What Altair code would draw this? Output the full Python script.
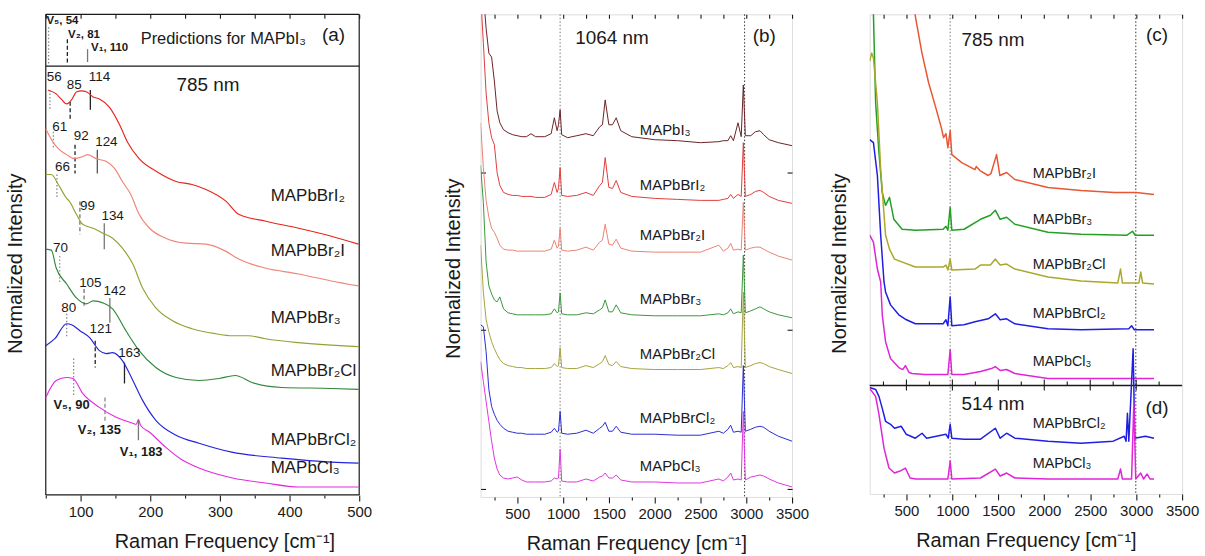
import altair as alt
import pandas as pd

FONT = "Liberation Sans"
INK = "#1a1a1a"
XTITLE = "Raman Frequency [cm⁻¹]"
YTITLE = "Normalized Intensity"

# ======================= Panel (a): 785 nm, low frequency =======================
a_names = ["MAPbBrI₂", "MAPbBr₂I", "MAPbBr₃", "MAPbBr₂Cl", "MAPbBrCl₂", "MAPbCl₃"]
a_colors = ["#e8231c", "#ef8578", "#97a034", "#33873a", "#2323dc", "#e22be0"]

a_brI2_f = [53, 65, 72, 80, 87, 94, 101, 109, 118, 127, 141, 156, 167, 184, 209, 237, 260, 280, 309, 327, 366, 413, 460, 499]
a_brI2_i = [407, 403, 398, 393, 397, 405, 406, 405, 400, 398, 390, 372, 355, 338, 325, 315, 312, 307, 295, 282, 275, 268, 260, 252]
a_br2I_f = [50, 60, 68, 80, 91, 103, 110, 122, 137, 149, 160, 172, 184, 199, 222, 251, 280, 308, 327, 365, 413, 460, 499]
a_br2I_i = [368, 355, 348, 342, 338, 340, 342, 338, 335, 328, 315, 302, 282, 268, 258, 253, 252, 245, 237, 228, 222, 215, 210]
a_br3_f = [50, 58, 68, 80, 84, 94, 103, 118, 132, 146, 160, 175, 189, 208, 232, 260, 294, 318, 341, 365, 413, 499]
a_br3_i = [322, 322, 312, 298, 295, 282, 272, 268, 263, 258, 248, 232, 208, 188, 175, 167, 162, 160, 160, 157, 153, 149]
a_br2Cl_f = [50, 58, 65, 80, 94, 108, 118, 132, 146, 165, 184, 208, 237, 270, 299, 322, 346, 389, 460, 499]
a_br2Cl_i = [247, 246, 228, 212, 198, 192, 195, 193, 187, 165, 145, 128, 118, 115, 117, 120, 113, 108, 107, 106]
a_brCl2_f = [50, 63, 80, 87, 99, 113, 127, 137, 146, 160, 175, 189, 208, 237, 270, 317, 389, 460, 499]
a_brCl2_i = [150, 157, 172, 171, 165, 158, 145, 142, 143, 135, 115, 95, 75, 60, 52, 43, 37, 33, 32]
a_cl3_f = [50, 65, 80, 89, 103, 127, 151, 175, 180, 183, 186, 199, 222, 246, 270, 318, 365, 413, 499]
a_cl3_i = [98, 115, 118, 117, 102, 88, 78, 72, 71, 76, 70, 63, 48, 35, 27, 17, 12, 8, 8]

# peak markers (frequency, top, bottom, style, colour)
a_mark_f = [56, 85, 114, 61, 92, 124, 66, 99, 134, 70, 105, 142, 80, 121, 163, 90, 135, 183, 54, 81, 110]
a_mark_top = [407, 395, 407, 365, 352, 347, 322, 295, 273, 240, 207, 198, 182, 155, 133, 137, 98, 75, 470, 458, 448]
a_mark_bot = [388, 377, 387, 348, 323, 323, 298, 262, 247, 212, 188, 173, 158, 128, 112, 100, 72, 55, 433, 433, 435]
a_mark_kind = ["dot", "dash", "solid"] * 7
a_mark_col = ["#8a8a8a", "#222222", "#222222", "#8a8a8a", "#222222", "#555555",
              "#8a8a8a", "#777777", "#777777", "#9a9a9a", "#777777", "#777777",
              "#8a8a8a", "#222222", "#222222", "#8a8a8a", "#888888", "#777777",
              "#8a8a8a", "#222222", "#777777"]

a_num_t = ["56", "85", "114", "61", "92", "124", "66", "99", "134", "70", "105", "142", "80", "121", "163"]
a_num_f = [62, 91, 127, 70, 101, 137, 74, 110, 146, 71, 114, 149, 83, 129, 170]
a_num_i = [420, 412, 420, 370, 361, 355, 330, 290, 280, 248, 213, 205, 188, 167, 143]

a_v_t = ["V₅, 90", "V₂, 135", "V₁, 183"]
a_v_f = [87, 127, 187]
a_v_i = [90, 65, 43]

s_v_t = ["V₅, 54", "V₂, 81", "V₁, 110"]
s_v_f = [51, 82, 115]
s_v_i = [476, 462, 449]

a_lab_f = 373
a_lab_i = [300, 245, 178, 125, 55, 27]

a_frame_x = [50, 500, 50, 50, 50]
a_frame_x2 = [50, 500, 500, 500, 500]
a_frame_y = [0, 0, 0, 483, 431]
a_frame_y2 = [483, 483, 0, 483, 431]

# ======================= Panel (b): 1064 nm =======================
b_names = ["MAPbI₃", "MAPbBrI₂", "MAPbBr₂I", "MAPbBr₃", "MAPbBr₂Cl", "MAPbBrCl₂", "MAPbCl₃"]
b_colors = ["#6b2226", "#e23b3b", "#ea8373", "#3a963a", "#a5a33d", "#2b2bd3", "#e034e0"]
b_grid = [100, 130, 160, 190, 220, 250, 280, 310, 350, 400, 450, 500, 550, 600, 650, 700, 800, 870, 905, 935,
          950, 968, 985, 1050, 1150, 1250, 1330, 1400, 1430, 1460, 1500, 1540, 1580, 1630, 1750, 2000, 2250, 2500,
          2700, 2750, 2800, 2830, 2860, 2910, 2945, 2968, 2990, 3050, 3100, 3150, 3190, 3250, 3350, 3500]
b_I3 = [536, 506, 471, 446, 442, 418, 388, 376, 369, 366, 364, 363, 362, 362, 365, 362, 362, 365, 381, 368,
        374, 389, 364, 361, 363, 365, 363, 372, 374, 399, 374, 374, 381, 368, 362, 359, 358, 356, 357, 358,
        358, 363, 358, 376, 362, 414, 363, 363, 367, 368, 364, 359, 356, 353]
b_BrI2 = [506, 456, 406, 376, 361, 354, 326, 313, 306, 304, 303, 303, 302, 302, 302, 301, 301, 304, 316, 306,
          310, 331, 303, 302, 303, 306, 303, 313, 316, 341, 311, 310, 318, 306, 302, 300, 299, 298, 298, 299,
          300, 304, 300, 304, 302, 356, 302, 304, 307, 308, 306, 302, 298, 295]
b_Br2I = [376, 331, 298, 281, 270, 266, 260, 253, 249, 248, 248, 247, 247, 247, 247, 247, 247, 249, 258, 250,
          252, 270, 248, 247, 248, 251, 248, 256, 258, 274, 254, 253, 259, 250, 247, 246, 246, 246, 253, 247,
          250, 255, 248, 249, 248, 296, 248, 250, 251, 251, 249, 246, 242, 238]
b_Br3 = [333, 296, 236, 212, 204, 198, 196, 201, 189, 185, 184, 183, 183, 183, 183, 183, 183, 184, 189, 185,
         186, 205, 184, 183, 183, 185, 184, 188, 190, 198, 186, 186, 193, 185, 183, 182, 182, 182, 184, 183,
         185, 189, 184, 186, 185, 243, 185, 187, 189, 191, 189, 186, 183, 180]
b_Br2Cl = [253, 206, 178, 166, 156, 149, 143, 138, 134, 132, 131, 130, 130, 129, 129, 129, 129, 130, 134, 131,
           132, 150, 130, 129, 129, 132, 130, 134, 136, 142, 133, 132, 136, 131, 129, 128, 128, 128, 130, 129,
           132, 135, 130, 131, 130, 206, 130, 132, 134, 135, 134, 131, 128, 124]
b_BrCl2 = [173, 171, 146, 108, 91, 83, 77, 73, 69, 66, 65, 64, 64, 63, 63, 63, 63, 65, 69, 65,
           66, 86, 64, 63, 64, 67, 64, 69, 71, 75, 66, 66, 71, 65, 63, 63, 62, 62, 66, 64,
           68, 72, 65, 66, 65, 132, 66, 68, 70, 71, 70, 66, 61, 56]
b_Cl3 = [136, 116, 96, 76, 56, 39, 28, 22, 19, 18, 19, 20, 17, 15, 15, 15, 15, 16, 19, 18,
         19, 48, 16, 15, 15, 18, 16, 20, 21, 24, 19, 19, 22, 17, 15, 15, 14, 14, 18, 16,
         20, 24, 17, 18, 17, 86, 17, 20, 21, 22, 21, 18, 14, 10]
b_lab_f = 1838
b_lab_i = [369, 313, 263, 199, 144, 79, 31]
b_vline_f = [968, 2982]
b_vline_c = ["#7a7a7a", "#333333"]
b_yticks = [8, 168, 326]

# ======================= Panels (c) 785 nm and (d) 514 nm =======================
c_names = ["MAPbBr₂I", "MAPbBr₃", "MAPbBr₂Cl", "MAPbBrCl₂", "MAPbCl₃"]
c_colors = ["#e95633", "#23a023", "#aaa82a", "#1f1fe3", "#e024d8"]
c_br2I_f = [560, 597, 669, 742, 814, 880, 904, 930, 951, 976, 994, 1102, 1246, 1260, 1300, 1390, 1420, 1481, 1517, 1590, 1680, 2040, 2400, 2761, 3000, 3194]
c_br2I_i = [513, 480, 443, 413, 390, 368, 358, 362, 348, 365, 341, 333, 326, 329, 325, 320, 322, 341, 320, 323, 316, 308, 305, 303, 303, 301]
c_br3_f = [120, 141, 165, 201, 237, 273, 316, 363, 453, 600, 900, 930, 951, 976, 994, 1127, 1306, 1414, 1468, 1520, 1590, 1680, 2040, 2400, 2900, 2960, 2990, 3194]
c_br3_i = [553, 482, 393, 343, 303, 290, 298, 276, 266, 265, 266, 269, 265, 288, 265, 266, 276, 280, 285, 276, 278, 271, 263, 261, 260, 264, 260, 260]
c_br2Cl_f = [100, 122, 141, 184, 220, 273, 316, 370, 597, 900, 930, 951, 976, 994, 1246, 1306, 1414, 1468, 1520, 1590, 1680, 2040, 2400, 2800, 2830, 2850, 3030, 3050, 3070, 3194]
c_br2Cl_i = [435, 443, 438, 393, 326, 260, 246, 236, 228, 228, 230, 225, 236, 225, 226, 230, 230, 236, 230, 231, 226, 218, 214, 212, 226, 212, 212, 223, 212, 211]
c_brCl2_f = [100, 141, 184, 220, 256, 273, 327, 417, 500, 597, 900, 930, 951, 976, 994, 1127, 1246, 1390, 1468, 1520, 1590, 1680, 2040, 2400, 2920, 2950, 2980, 3194]
c_brCl2_i = [356, 353, 320, 260, 213, 203, 190, 180, 175, 171, 171, 175, 169, 198, 169, 170, 173, 176, 181, 175, 176, 171, 166, 165, 166, 169, 165, 165]
c_cl3_f = [100, 141, 184, 220, 237, 273, 327, 417, 460, 489, 530, 561, 700, 951, 976, 994, 1127, 1306, 1425, 1468, 1520, 1590, 1680, 2040, 2400, 3194]
c_cl3_i = [260, 253, 226, 213, 180, 153, 136, 127, 125, 129, 122, 121, 120, 120, 145, 120, 120, 123, 126, 128, 124, 125, 121, 116, 116, 116]

d_names = ["MAPbBrCl₂ (514)", "MAPbCl₃ (514)"]
d_colors = ["#1f1fe3", "#e024d8"]
d_brCl2_f = [100, 165, 201, 237, 273, 327, 370, 443, 497, 597, 670, 720, 930, 955, 976, 994, 1127, 1306, 1468, 1520, 1590, 1680, 2040, 2400, 2750, 2870, 2890, 2905, 2920, 2967, 2985, 3100, 3194]
d_brCl2_i = [107, 105, 98, 86, 73, 70, 66, 68, 60, 56, 61, 56, 60, 56, 70, 56, 55, 55, 66, 56, 61, 56, 53, 51, 53, 58, 53, 81, 53, 146, 56, 58, 56]
d_cl3_f = [100, 165, 201, 256, 310, 370, 430, 489, 540, 600, 951, 976, 994, 1306, 1468, 1520, 1590, 1680, 2040, 2800, 2830, 2850, 2950, 2975, 2995, 3050, 3080, 3120, 3150, 3194]
d_cl3_i = [106, 98, 80, 46, 26, 21, 23, 26, 16, 15, 15, 33, 15, 16, 25, 18, 21, 16, 15, 15, 25, 15, 15, 93, 15, 21, 15, 20, 15, 15]

cd_lab_f = 1874
cd_lab_t = ["MAPbBr₂I", "MAPbBr₃", "MAPbBr₂Cl", "MAPbBrCl₂", "MAPbCl₃", "MAPbBrCl₂", "MAPbCl₃"]
cd_lab_i = [321, 275, 230, 181, 133, 70, 30]
cd_vline_f = [976, 2996]
cd_vline_c = ["#7a7a7a", "#333333"]
cd_sep = 109
cd_sep_major = [500, 1000, 1500, 2000, 2500, 3000]
cd_sep_minor = [250, 750, 1250, 1750, 2250, 2750, 3250]


# ======================= helpers =======================
def curves(names, xs_list, ys_list):
    rows = []
    for n, xs, ys in zip(names, xs_list, ys_list):
        for k, (x, y) in enumerate(zip(xs, ys)):
            rows.append({"s": n, "x": x, "y": y, "o": k})
    return pd.DataFrame(rows)


AXS = dict(domain=False, grid=False, tickColor=INK, tickWidth=1.1, labelFont=FONT, labelFontSize=15,
           labelColor=INK, titleFont=FONT, titleFontSize=20, titleFontWeight="normal", titleColor=INK,
           labelFlush=False, labelOverlap=False)


def ax_bottom(lo, hi, step, major):
    cond = f"datum.value % {major} === 0"
    return alt.Axis(orient="bottom", values=list(range(lo, hi + 1, step)), format="d",
                    labelExpr=f"{cond} ? datum.label : ''",
                    tickSize={"condition": {"test": cond, "value": 6}, "value": 3},
                    labelPadding=4, title=XTITLE, titlePadding=12, **AXS)


def ax_top_in(lo, hi, step):
    return alt.Axis(orient="top", values=list(range(lo, hi + 1, step)), labels=False, tickSize=4,
                    offset=-4, title=None, **AXS)


def sc(dom):
    return alt.Scale(domain=dom, nice=False, zero=False)


def X(dom, axis=None, field="x"):
    return alt.X(f"{field}:Q", scale=sc(dom), axis=axis)


def Y(dom, axis=None, field="y"):
    return alt.Y(f"{field}:Q", scale=sc(dom), axis=axis)


def line_layer(df, names, colors, xe, ye, sw, interp="linear", clip=True):
    return alt.Chart(df).mark_line(strokeWidth=sw, interpolate=interp, clip=clip, strokeJoin="round").encode(
        x=xe, y=ye,
        color=alt.Color("s:N", scale=alt.Scale(domain=names, range=colors), legend=None),
        order=alt.Order("o:Q"))


def text_layer(df, xe, ye, size, align="left", weight="normal"):
    return alt.Chart(df).mark_text(font=FONT, fontSize=size, align=align, baseline="middle", color=INK,
                                   fontWeight=weight).encode(x=xe, y=ye, text="t:N")


def vline_layer(df, xe):
    return alt.Chart(df).mark_rule(strokeDash=[1.5, 2], strokeWidth=1).encode(
        x=xe, stroke=alt.Stroke("c:N", scale=None))


# ======================= Panel (a) =======================
A_X = [50, 50 + 359 / 0.7]
A_Y = [0, 483]
a_df = curves(a_names, [a_brI2_f, a_br2I_f, a_br3_f, a_br2Cl_f, a_brCl2_f, a_cl3_f],
              [a_brI2_i, a_br2I_i, a_br3_i, a_br2Cl_i, a_brCl2_i, a_cl3_i])
a_lines = line_layer(a_df, a_names, a_colors,
                     X(A_X, ax_bottom(50, 500, 50, 100)),
                     Y(A_Y, alt.Axis(orient="left", ticks=False, labels=False, title=YTITLE,
                                     titlePadding=20, titleY=250, **AXS)),
                     1.15, "monotone", clip=False)

frame_df = pd.DataFrame({"x": a_frame_x, "x2": a_frame_x2, "y": a_frame_y, "y2": a_frame_y2})
a_frame = alt.Chart(frame_df).mark_rule(color=INK, strokeWidth=1.2).encode(
    x=X(A_X), x2="x2:Q", y=Y(A_Y), y2="y2:Q")

mark_df = pd.DataFrame({"x": a_mark_f, "y": a_mark_top, "y2": a_mark_bot, "k": a_mark_kind, "c": a_mark_col})
a_marks = []
for kind, dash in (("dot", [1.5, 2]), ("dash", [4, 2.5]), ("solid", None)):
    mk = dict(strokeWidth=1.3)
    if dash:
        mk["strokeDash"] = dash
    a_marks.append(alt.Chart(mark_df[mark_df["k"] == kind]).mark_rule(**mk).encode(
        x=X(A_X), y=Y(A_Y), y2="y2:Q", stroke=alt.Stroke("c:N", scale=None)))

a_nums = text_layer(pd.DataFrame({"t": a_num_t, "x": a_num_f, "y": a_num_i}), X(A_X), Y(A_Y), 13.5, "center")
a_vs = text_layer(pd.DataFrame({"t": a_v_t, "x": a_v_f, "y": a_v_i}), X(A_X), Y(A_Y), 13, "center", "bold")
s_vs = text_layer(pd.DataFrame({"t": s_v_t, "x": s_v_f, "y": s_v_i}), X(A_X), Y(A_Y), 11.5, "left", "bold")
a_labs = text_layer(pd.DataFrame({"t": a_names, "x": [a_lab_f] * 6, "y": a_lab_i}), X(A_X), Y(A_Y), 17)
a_head = text_layer(pd.DataFrame({"t": ["Predictions for MAPbI₃"], "x": [305], "y": [458]}),
                    X(A_X, ax_top_in(50, 500, 50)), Y(A_Y), 16.5, "center")
a_tag = text_layer(pd.DataFrame({"t": ["(a)", "785 nm"], "x": [463, 283], "y": [462, 412]}),
                   X(A_X), Y(A_Y), 19, "center")

panel_a = alt.layer(a_frame, *a_marks, a_lines, a_nums, a_vs, s_vs, a_labs, a_head, a_tag).resolve_axis(
    x="independent", y="independent").properties(
    width=359, height=483, view=alt.ViewBackground(stroke="transparent"))

# ======================= Panel (b) =======================
B_X = [100, 3500]
B_Y = [0, 485]
b_df = curves(b_names, [b_grid] * 7, [b_I3, b_BrI2, b_Br2I, b_Br3, b_Br2Cl, b_BrCl2, b_Cl3])
b_v = vline_layer(pd.DataFrame({"x": b_vline_f, "c": b_vline_c}), X(B_X))
b_lines = line_layer(b_df, b_names, b_colors,
                     X(B_X, ax_bottom(250, 3500, 250, 500)),
                     Y(B_Y, alt.Axis(orient="left", values=b_yticks, labels=False, tickSize=5, offset=-5,
                                     title=YTITLE, titlePadding=17, titleY=255, **AXS)),
                     1.0)
b_labs = text_layer(pd.DataFrame({"t": b_names, "x": [b_lab_f] * 7, "y": b_lab_i}),
                    X(B_X, ax_top_in(250, 3500, 250)),
                    Y(B_Y, alt.Axis(orient="right", values=b_yticks, labels=False, tickSize=5, offset=-5,
                                    title=None, **AXS)), 15)
b_tag = text_layer(pd.DataFrame({"t": ["1064 nm", "(b)"], "x": [1534, 3196], "y": [461, 463]}),
                   X(B_X), Y(B_Y), 19, "center")
panel_b = alt.layer(b_v, b_lines, b_labs, b_tag).resolve_axis(
    x="independent", y="independent").properties(width=313, height=485)

# ======================= Panels (c) + (d) =======================
CD_X = [100, 3500]
CD_Y = [0, 482]
c_df = curves(c_names, [c_br2I_f, c_br3_f, c_br2Cl_f, c_brCl2_f, c_cl3_f],
              [c_br2I_i, c_br3_i, c_br2Cl_i, c_brCl2_i, c_cl3_i])
d_df = curves(d_names, [d_brCl2_f, d_cl3_f], [d_brCl2_i, d_cl3_i])
cd_v = vline_layer(pd.DataFrame({"x": cd_vline_f, "c": cd_vline_c}), X(CD_X))
c_lines = line_layer(c_df, c_names, c_colors, X(CD_X),
                     Y(CD_Y, alt.Axis(orient="left", ticks=False, labels=False, title=YTITLE,
                                      titlePadding=20, titleY=250, **AXS)),
                     1.5)
d_lines = alt.Chart(d_df).mark_line(strokeWidth=1.5, clip=True, strokeJoin="round").encode(
    x=X(CD_X, ax_bottom(250, 3500, 250, 500)), y=Y(CD_Y),
    stroke=alt.Stroke("s:N", scale=alt.Scale(domain=d_names, range=d_colors), legend=None),
    order=alt.Order("o:Q"))
sep_line = alt.Chart(pd.DataFrame({"y": [cd_sep]})).mark_rule(color=INK, strokeWidth=1.6).encode(y=Y(CD_Y))
sep_ticks = pd.DataFrame({
    "x": cd_sep_major + cd_sep_minor,
    "y": [cd_sep - 5] * len(cd_sep_major) + [cd_sep] * len(cd_sep_minor),
    "y2": [cd_sep + 6] * len(cd_sep_major) + [cd_sep + 4] * len(cd_sep_minor)})
sep_tk = alt.Chart(sep_ticks).mark_rule(color=INK, strokeWidth=1.1).encode(x=X(CD_X), y=Y(CD_Y), y2="y2:Q")
cd_labs = text_layer(pd.DataFrame({"t": cd_lab_t, "x": [cd_lab_f] * 7, "y": cd_lab_i}),
                     X(CD_X, ax_top_in(250, 3500, 250)), Y(CD_Y), 14.5)
cd_tag = text_layer(pd.DataFrame({"t": ["785 nm", "(c)", "514 nm", "(d)"], "x": [1441, 3226, 1441, 3226],
                                  "y": [456, 461, 90, 86]}), X(CD_X), Y(CD_Y), 19, "center")
panel_cd = alt.layer(cd_v, sep_line, sep_tk, c_lines, d_lines, cd_labs, cd_tag).resolve_axis(
    x="independent", y="independent").resolve_scale(color="independent", stroke="independent").properties(
    width=314, height=482)

chart = alt.hconcat(panel_a, panel_b, panel_cd, spacing=78, bounds="flush").resolve_scale(
    color="independent", stroke="independent"
).properties(
    padding={"left": 5, "top": 11, "right": 5, "bottom": 0}
).configure_view(stroke=INK, strokeWidth=1.2).configure(background="white")

chart.save("out.html", embed_options={"renderer": "svg", "actions": False})
